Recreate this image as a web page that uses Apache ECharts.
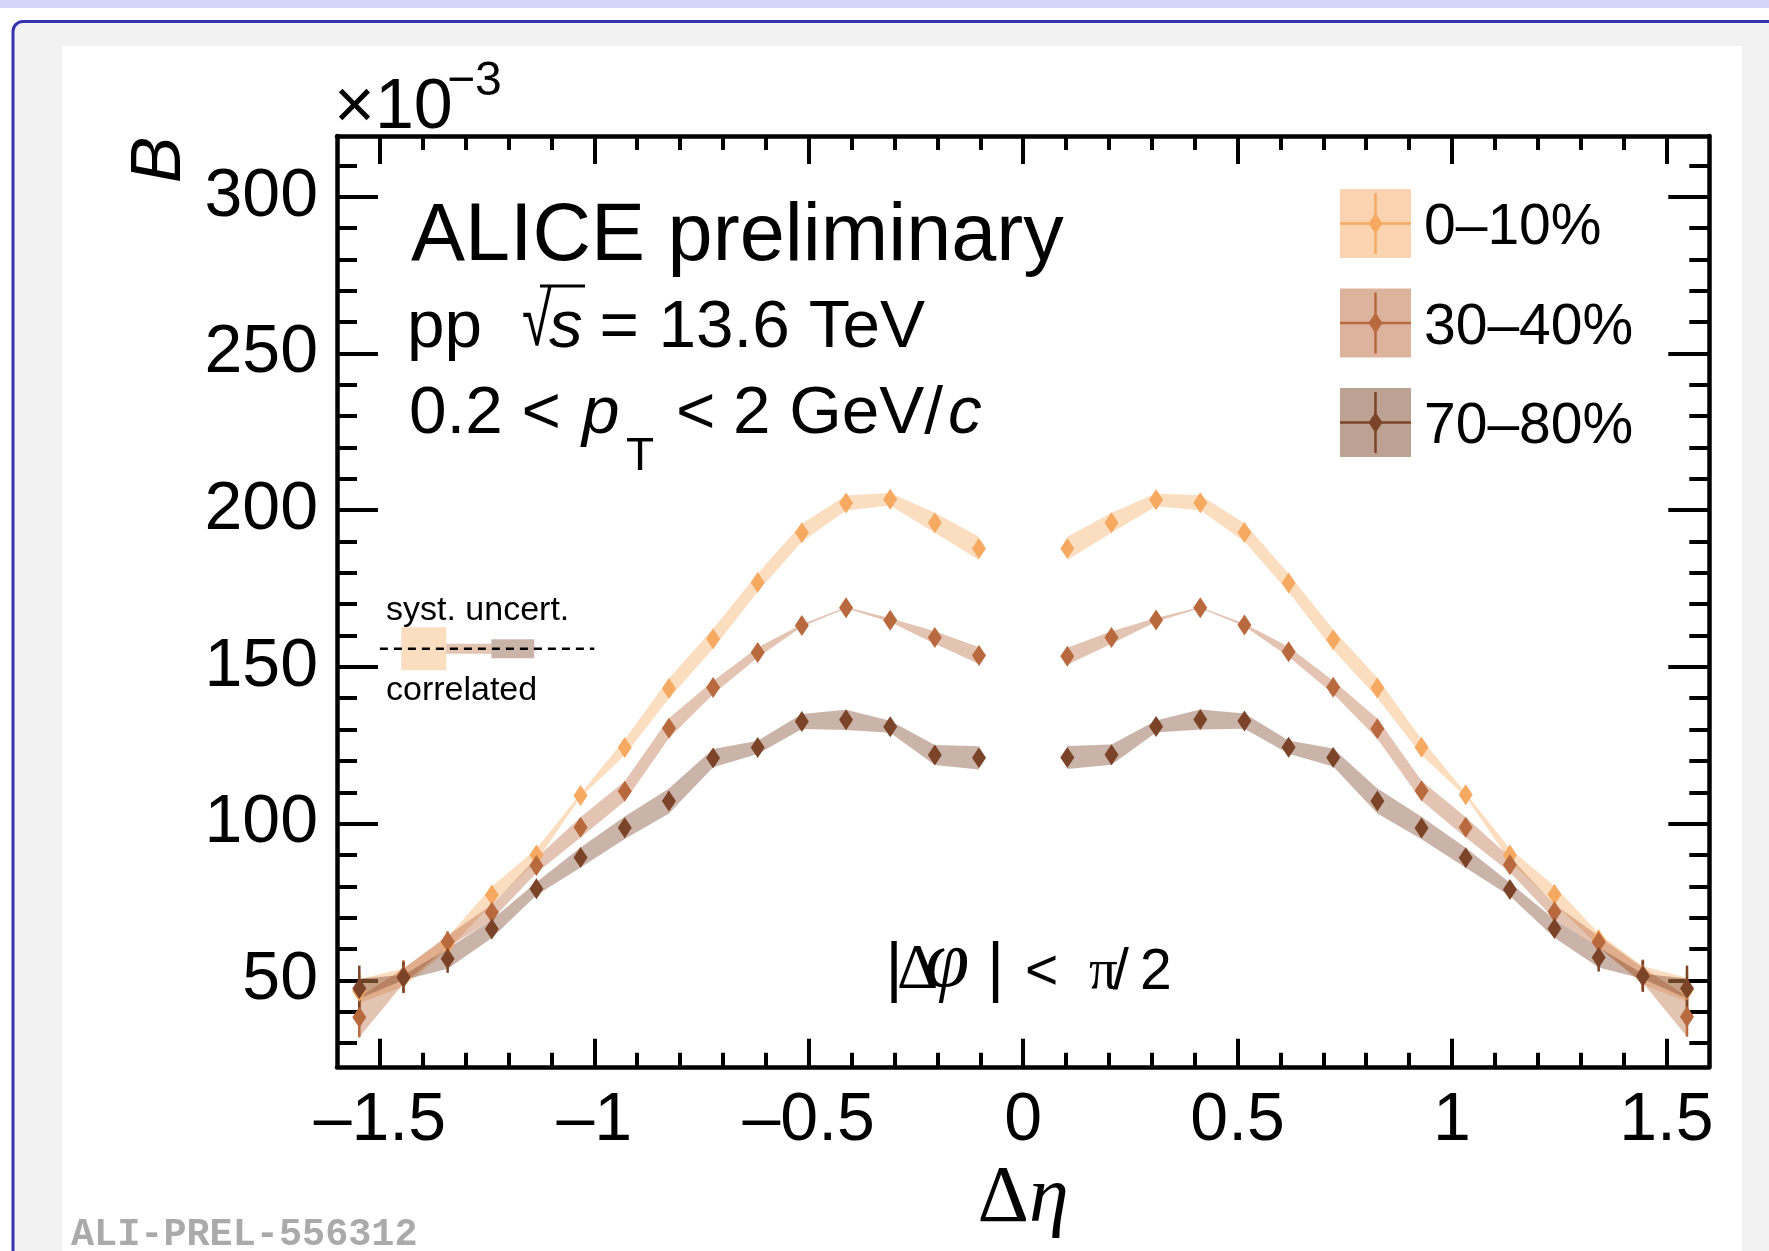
<!DOCTYPE html>
<html>
<head>
<meta charset="utf-8">
<script src="https://cdn.jsdelivr.net/npm/echarts@6/dist/echarts.min.js"></script>
<style>
html,body{margin:0;padding:0;background:#fff;}
#chart{width:1769px;height:1251px;}
</style>
</head>
<body>
<div id="chart"></div>
<script>
// ---------------- data ----------------
const deltaEta = [-1.548,-1.445,-1.342,-1.239,-1.135,-1.032,-0.929,-0.826,-0.723,-0.619,-0.516,-0.413,-0.310,-0.206,-0.103,
                  0.103,0.206,0.310,0.413,0.516,0.619,0.723,0.826,0.929,1.032,1.135,1.239,1.342,1.445,1.548];

const centralityLabels = ['0–10%', '30–40%', '70–80%'];

const b0_10  = [46.5,50.9,61.6,77.2,90.0,109.0,124.3,143.1,159.0,176.9,192.8,202.3,203.5,196.0,187.8,
                187.8,196.0,203.3,202.4,192.9,176.8,158.7,143.3,124.4,109.2,90.0,77.4,62.9,51.6,47.0];
const b30_40 = [38.2,51.4,62.4,71.7,86.6,98.8,110.3,130.4,143.4,154.6,163.2,168.9,164.9,159.4,153.6,
                153.4,159.4,165.0,168.9,163.4,154.8,143.5,130.3,110.5,98.8,86.9,71.9,62.2,51.6,38.4];
const b70_80 = [47.4,50.9,56.9,66.4,79.2,89.2,98.7,107.2,120.9,124.3,132.6,133.1,130.9,121.9,121.0,
                121.1,122.0,131.0,133.2,132.7,124.4,121.1,107.2,98.6,89.1,79.0,66.5,57.3,51.3,47.4];

const sys0_10  = [3.8,2.9,2.1,2.7,2.0,0.6,2.5,3.2,3.2,2.9,2.9,2.4,2.0,3.2,3.7,
                  3.7,3.2,2.0,2.4,2.9,2.9,3.2,3.2,2.5,0.6,2.0,2.7,2.1,2.9,3.8];
const sys30_40 = [6.4,2.4,1.9,2.4,2.4,3.2,3.2,3.2,2.1,1.6,0.4,0.2,0.6,2.0,2.7,
                  2.7,2.0,0.6,0.2,0.4,1.6,2.1,3.2,3.2,3.2,2.4,2.4,1.9,2.4,6.4];
const sys70_80 = [3.2,0.8,3.2,2.9,2.1,3.2,3.6,4.0,2.9,2.1,2.4,3.2,1.9,3.2,3.7,
                  3.7,3.2,1.9,3.2,2.4,2.1,2.9,4.0,3.6,3.2,2.1,2.9,3.2,0.8,3.2];

const stat0_10  = [6.0,4.5,3.0,1,1,1,1,1,1,1,1,1,1,1,1, 1,1,1,1,1,1,1,1,1,1,1,1,3.0,4.5,6.0];
const stat30_40 = [6.4,5.0,3.2,1,1,1,1,1,1,1,1,1,1,1,1, 1,1,1,1,1,1,1,1,1,1,1,1,3.2,5.0,6.4];
const stat70_80 = [7.3,5.0,4.5,1,1,1,1,1,1,1,1,1,1,1,1, 1,1,1,1,1,1,1,1,1,1,1,1,4.5,5.0,7.3];

// correlated systematic uncertainty indicator
const corrLevel = 155.8;
const corrFrom  = [-1.45, -1.345, -1.24];
const corrTo    = [-1.345, -1.24, -1.14];
const corrHalf  = [6.85, 1.6, 3.0];
const corrLine  = [-1.5, -1.0];

// ticks
const xMajor = [-1.5,-1,-0.5,0,0.5,1,1.5];
const xMinor = [-1.4,-1.3,-1.2,-1.1,-0.9,-0.8,-0.7,-0.6,-0.4,-0.3,-0.2,-0.1,0.1,0.2,0.3,0.4,0.6,0.7,0.8,0.9,1.1,1.2,1.3,1.4];
const yMajor = [50,100,150,200,250,300];
const yMinor = [30,40,60,70,80,90,110,120,130,140,160,170,180,190,210,220,230,240,260,270,280,290,310];

// ---------------- styling ----------------
const colors = ['#f5a961', '#b9693e', '#7b4428'];
function rgba(hex, a) {
  const n = parseInt(hex.slice(1), 16);
  return 'rgba(' + ((n >> 16) & 255) + ',' + ((n >> 8) & 255) + ',' + (n & 255) + ',' + a + ')';
}
const SANS = 'Liberation Sans', SERIF = 'Liberation Serif', MONO = 'Liberation Mono';

const groups = [
  {name: centralityLabels[0], y: b0_10,  sys: sys0_10,  stat: stat0_10,  color: colors[0]},
  {name: centralityLabels[1], y: b30_40, sys: sys30_40, stat: stat30_40, color: colors[1]},
  {name: centralityLabels[2], y: b70_80, sys: sys70_80, stat: stat70_80, color: colors[2]}
];

const X_MIN = -1.6, X_MAX = 1.6, Y_MIN = 22.4, Y_MAX = 319.4;

function xAxisDef(pos, ticks, len, showLine, labels) {
  return {
    type: 'value', min: X_MIN, max: X_MAX, position: pos, gridIndex: 0,
    axisLine: {show: showLine, onZero: false, lineStyle: {color: '#000', width: 4.5}},
    axisTick: {show: true, inside: true, length: len, customValues: ticks, lineStyle: {color: '#000', width: 4}},
    axisLabel: labels ? {
      show: true, customValues: ticks, margin: 20, color: '#000', fontSize: 68, fontFamily: SANS,
      formatter: v => (v < 0 ? '–' + (-v) : String(v))
    } : {show: false},
    splitLine: {show: false}
  };
}
function yAxisDef(pos, ticks, len, showLine, labels) {
  return {
    type: 'value', min: Y_MIN, max: Y_MAX, position: pos, gridIndex: 0,
    axisLine: {show: showLine, onZero: false, lineStyle: {color: '#000', width: 4.5}},
    axisTick: {show: true, inside: true, length: len, customValues: ticks, lineStyle: {color: '#000', width: 4}},
    axisLabel: labels ? {
      show: true, customValues: ticks, margin: 19, color: '#000', fontSize: 68, fontFamily: SANS,
      padding: [11, 0, 0, 0]
    } : {show: false},
    splitLine: {show: false}
  };
}

const xAxes = [
  xAxisDef('bottom', xMajor, 28, true, true),
  xAxisDef('bottom', xMinor, 14, false, false),
  xAxisDef('top', xMajor, 28, true, false),
  xAxisDef('top', xMinor, 14, false, false)
];
xAxes[0].name = '{d|Δ}{e|η}';
xAxes[0].nameLocation = 'middle';
xAxes[0].nameGap = 84;
xAxes[0].nameTextStyle = {
  rich: {
    d: {fontFamily: SERIF, fontSize: 80, color: '#000'},
    e: {fontFamily: SERIF, fontStyle: 'italic', fontSize: 80, color: '#000'}
  }
};
const yAxes = [
  yAxisDef('left', yMajor, 41, true, true),
  yAxisDef('left', yMinor, 20, false, false),
  yAxisDef('right', yMajor, 41, true, false),
  yAxisDef('right', yMinor, 20, false, false)
];

// ---------------- series ----------------
const series = [];
function crossesZero(api, j) {
  return api.value(0, j - 1) < 0 && api.value(0, j) > 0;
}
// systematic bands
groups.forEach(g => {
  series.push({
    type: 'custom', name: g.name + ' syst.', xAxisIndex: 0, yAxisIndex: 0, z: 2, silent: true, clip: true,
    encode: {x: 0, y: 1},
    data: deltaEta.map((x, i) => [x, g.y[i], g.sys[i]]),
    renderItem: (params, api) => {
      const i = params.dataIndexInside, n = params.dataInsideLength;
      if (i > 0 && !crossesZero(api, i)) return null;
      const up = [], lo = [];
      for (let j = i; j < n; j++) {
        if (j > i && crossesZero(api, j)) break;
        const x = api.value(0, j), y = api.value(1, j), e = api.value(2, j);
        up.push(api.coord([x, y + e]));
        lo.unshift(api.coord([x, y - e]));
      }
      return {type: 'polygon', shape: {points: up.concat(lo)}, style: {fill: rgba(g.color, 0.4)}};
    }
  });
});
// correlated uncertainty boxes
series.push({
  type: 'custom', name: 'correlated', xAxisIndex: 0, yAxisIndex: 0, z: 2, silent: true,
  encode: {x: 0, y: 2},
  data: corrFrom.map((x0, i) => [x0, corrTo[i], corrLevel, corrHalf[i], i]),
  renderItem: (params, api) => {
    const a = api.coord([api.value(0), api.value(2) + api.value(3)]);
    const b = api.coord([api.value(1), api.value(2) - api.value(3)]);
    return {type: 'rect', shape: {x: a[0], y: a[1], width: b[0] - a[0], height: b[1] - a[1]},
            style: {fill: rgba(colors[api.value(4)], 0.4)}};
  }
});
series.push({
  type: 'line', name: 'corr. level', xAxisIndex: 0, yAxisIndex: 0, z: 5, silent: true,
  symbol: 'none', data: corrLine.map(x => [x, corrLevel]),
  lineStyle: {color: '#000', width: 2.5, type: [8, 6]}
});
// statistical error bars
groups.forEach(g => {
  series.push({
    type: 'custom', name: g.name + ' stat.', xAxisIndex: 0, yAxisIndex: 0, z: 3, silent: true,
    encode: {x: 0, y: 1},
    data: deltaEta.map((x, i) => [x, g.y[i], g.stat[i]]),
    renderItem: (params, api) => {
      const x = api.value(0), y = api.value(1), e = api.value(2);
      const a = api.coord([x, y - e]), b = api.coord([x, y + e]);
      return {type: 'line', shape: {x1: a[0], y1: a[1], x2: b[0], y2: b[1]},
              style: {stroke: g.color, lineWidth: 2.5}};
    }
  });
});
// markers
groups.forEach(g => {
  series.push({
    type: 'scatter', name: g.name, xAxisIndex: 0, yAxisIndex: 0, z: 4, silent: true,
    symbol: 'diamond', symbolSize: [14, 21],
    itemStyle: {color: g.color, opacity: 1},
    data: deltaEta.map((x, i) => [x, g.y[i]])
  });
});

// ---------------- graphics (frame decoration, texts, legend) ----------------
// place text by its baseline (y = baseline - 0.278 * size with 'middle' alignment)
function txt(x, baseline, text, size, opts) {
  opts = opts || {};
  const el = {
    type: 'text', x: x, y: baseline - 0.278 * size, z: 10, silent: true, rotation: opts.rotation || 0,
    style: {
      text: text, fontSize: size, fontFamily: opts.family || SANS,
      fontStyle: opts.italic ? 'italic' : 'normal', fontWeight: opts.bold ? 'bold' : 'normal',
      fill: opts.color || '#000', align: opts.align || 'left', verticalAlign: 'middle'
    }
  };
  return el;
}

const graphics = [
  {type: 'rect', z: -10, silent: true, shape: {x: 0, y: 0, width: 1769, height: 8}, style: {fill: '#d4d4f8'}},
  {type: 'rect', z: -10, silent: true, shape: {x: 13, y: 21.5, width: 1800, height: 1300, r: 10},
   style: {fill: '#f2f2f2', stroke: '#3434ae', lineWidth: 3}},
  {type: 'rect', z: -9, silent: true, shape: {x: 62, y: 46, width: 1680, height: 1300}, style: {fill: '#ffffff'}},

  // multiplier and axis title
  txt(334, 128.5, '×10', 70),
  txt(447, 95, '−3', 48),
  {type: 'text', x: 161, y: 160, z: 10, silent: true, rotation: Math.PI / 2,
   style: {text: 'B', fontSize: 70, fontFamily: SANS, fontStyle: 'italic', fill: '#000', align: 'center', verticalAlign: 'middle'}},

  // header texts
  txt(411, 260, 'ALICE preliminary', 81),
  txt(407, 346.7, 'pp', 67.5),
  {type: 'text', x: 522, y: 325, z: 10, silent: true, scaleX: 0.8, scaleY: 1.1,
   style: {text: '√', fontSize: 67.5, fontFamily: SANS, fill: '#000', align: 'left', verticalAlign: 'middle'}},
  txt(549, 346.7, 's', 67.5, {italic: true}),
  {type: 'line', z: 10, silent: true, shape: {x1: 540, y1: 286, x2: 585, y2: 286}, style: {stroke: '#000', lineWidth: 3}},
  txt(599.5, 346.7, '=', 67.5),
  txt(658.5, 346.7, '13.6 TeV', 67.5),
  txt(409, 433.3, '0.2 <', 67.5),
  txt(582, 433.3, 'p', 67.5, {italic: true}),
  txt(626, 470, 'T', 46),
  txt(676, 433.3, '<', 67.5),
  txt(733, 433.3, '2 GeV/', 67.5),
  txt(948, 433.3, 'c', 67.5, {italic: true}),

  // |Δφ| < π/2
  txt(885.5, 989.3, '|', 66),
  txt(897, 989.3, 'Δ', 64, {family: SERIF}),
  txt(925, 987, 'φ', 80, {family: SERIF, italic: true}),
  txt(987, 989.3, '|', 66),
  txt(1025, 989.3, '<', 57),
  txt(1089, 989.3, 'π', 57, {family: SERIF}),
  txt(1113, 989.3, '/', 57),
  txt(1140, 989.3, '2', 57),

  // correlated uncertainty labels
  txt(386, 620, 'syst. uncert.', 34),
  txt(386, 700, 'correlated', 34),

  // watermark
  txt(71, 1246, 'ALI-PREL-556312', 38.5, {family: MONO, bold: true, color: '#aaaaaa'})
];

// legend
const LEG_X = 1340, LEG_Y = 189, LEG_W = 71, LEG_H = 69, LEG_STEP = 99.5;
groups.forEach((g, r) => {
  const top = LEG_Y + r * LEG_STEP, cx = LEG_X + LEG_W / 2, cy = top + LEG_H / 2;
  graphics.push({type: 'rect', z: 10, silent: true, shape: {x: LEG_X, y: top, width: LEG_W, height: LEG_H},
                 style: {fill: rgba(g.color, 0.5)}});
  graphics.push({type: 'line', z: 11, silent: true, shape: {x1: LEG_X, y1: cy, x2: LEG_X + LEG_W, y2: cy},
                 style: {stroke: g.color, lineWidth: 2.5}});
  graphics.push({type: 'line', z: 11, silent: true, shape: {x1: cx, y1: top + 4, x2: cx, y2: top + LEG_H - 4},
                 style: {stroke: g.color, lineWidth: 2.5}});
  graphics.push({type: 'polygon', z: 12, silent: true,
                 shape: {points: [[cx, cy - 10.5], [cx + 7, cy], [cx, cy + 10.5], [cx - 7, cy]]},
                 style: {fill: g.color}});
  graphics.push(txt(1424, cy + 20.8, g.name, 57));
});

const option = {
  animation: false,
  backgroundColor: '#ffffff',
  grid: {left: 337, top: 136, width: 1372.3, height: 930.8, containLabel: false, outerBoundsMode: 'none'},
  xAxis: xAxes,
  yAxis: yAxes,
  series: series,
  graphic: graphics
};

const chart = echarts.init(document.getElementById('chart'), null, {renderer: 'canvas'});
chart.setOption(option);
</script>
</body>
</html>
